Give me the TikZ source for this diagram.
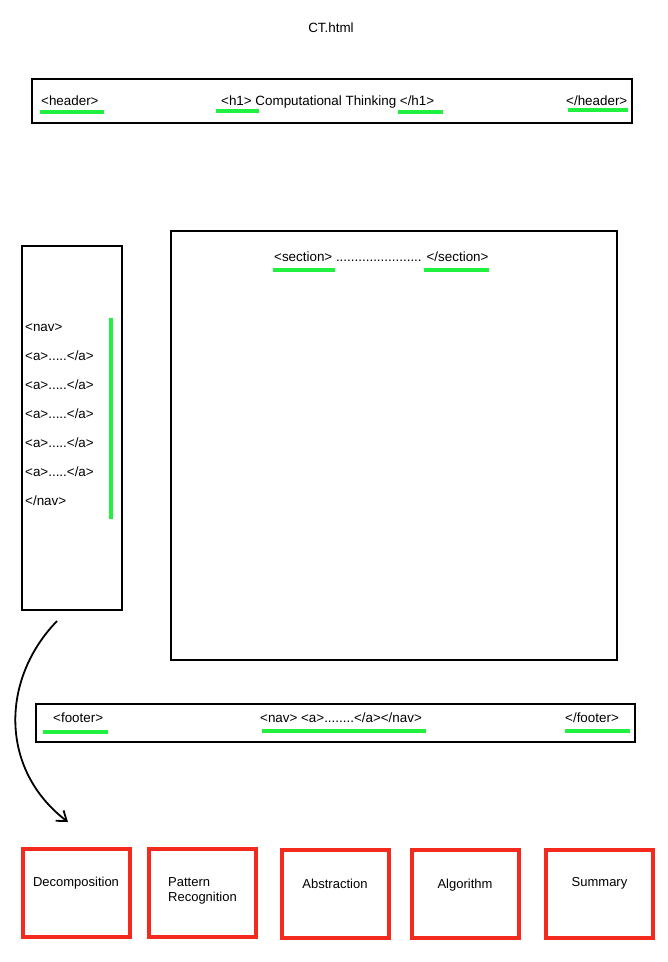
\documentclass[tikz,border=0pt]{standalone}
\usepackage{fontspec}
\setmainfont{Liberation Sans}
\usetikzlibrary{arrows.meta,positioning}
\definecolor{tagline}{HTML}{20F040}
\definecolor{boxred}{HTML}{F42A1E}

\begin{document}
\begin{tikzpicture}[x=1pt, y=-1pt,
  frame/.style={draw, line width=2.5pt, inner sep=0pt},
  topic/.style={draw=boxred, line width=4pt, minimum width=107pt, minimum height=88pt, inner sep=0pt},
  tag/.style={inner sep=0pt, anchor=west, text height=9pt, text depth=1pt, font=\fontsize{13.4}{15}\selectfont},
  topictext/.style={inner sep=0pt, align=left, font=\fontsize{13}{15}\selectfont},
  uline/.style={tagline, line width=4pt},
  arr/.style={-{Straight Barb[length=9pt, width=13pt]}, line width=1.8pt}
]
  \useasboundingbox (0,0) rectangle (668,962);

  \node[tag, anchor=center] (title) at (331,28) {CT.html};

  % header
  \node[frame, minimum width=600pt, minimum height=44pt] (header) at (332,101) {};
  \node[tag] (hopen) at (41,101) {<header>};
  \node[tag] (hone) at (221,101) {<h1> Computational Thinking </h1>};
  \node[tag] (hclose) at (566,101) {</header>};
  \draw[uline] (40,112) -- (104,112);
  \draw[uline] (216,111) -- (259,111);
  \draw[uline] (398,112) -- (443,112);
  \draw[uline] (568,110) -- (628,110);

  % nav
  \node[frame, minimum width=100pt, minimum height=364pt] (nav) at (72,428) {};
  \node[tag] (n0) at (25,327) {<nav>};
  \node[tag, below=18.7pt of n0.south west, anchor=north west] (n1) {<a>.....</a>};
  \node[tag, below=18.7pt of n1.south west, anchor=north west] (n2) {<a>.....</a>};
  \node[tag, below=18.7pt of n2.south west, anchor=north west] (n3) {<a>.....</a>};
  \node[tag, below=18.7pt of n3.south west, anchor=north west] (n4) {<a>.....</a>};
  \node[tag, below=18.7pt of n4.south west, anchor=north west] (n5) {<a>.....</a>};
  \node[tag, below=18.7pt of n5.south west, anchor=north west] (n6) {</nav>};
  \draw[uline] (111,318) -- (111,519);

  % section
  \node[frame, minimum width=446pt, minimum height=429pt] (section) at (394,445.5) {};
  \node[tag] (stext) at (274,257) {<section> ....................... </section>};
  \draw[uline] (273,270) -- (335,270);
  \draw[uline] (424,270) -- (489,270);

  % footer
  \node[frame, minimum width=599pt, minimum height=38pt] (footer) at (335.5,723) {};
  \node[tag] (fopen) at (53,718) {<footer>};
  \node[tag] (fnav) at (260,718) {<nav> <a>........</a></nav>};
  \node[tag] (fclose) at (565,718) {</footer>};
  \draw[uline] (43,732) -- (108,732);
  \draw[uline] (262,731) -- (426,731);
  \draw[uline] (565,731) -- (630,731);

  % topics
  \node[topic] (dec) at (76,892.5) {};
  \node[topic] (pat) at (202.5,892.5) {};
  \node[topic] (abs) at (335,893.5) {};
  \node[topic] (alg) at (465,894) {};
  \node[topic] (sum) at (599.5,894) {};
  \node[topictext] (dect) at ([yshift=9pt]dec.center) {Decomposition};
  \node[topictext] (patt) at ([yshift=2pt]pat.center) {Pattern\\Recognition};
  \node[topictext] (abst) at ([yshift=10pt]abs.center) {Abstraction};
  \node[topictext] (algt) at ([yshift=9pt]alg.center) {Algorithm};
  \node[topictext] (sumt) at ([yshift=11pt]sum.center) {Summary};

  \coordinate (astart) at (57,621);
  \coordinate (aend) at (68,822);
  \draw[arr] (astart) .. controls (0,680) and (0,770) .. (aend);
\end{tikzpicture}
\end{document}
